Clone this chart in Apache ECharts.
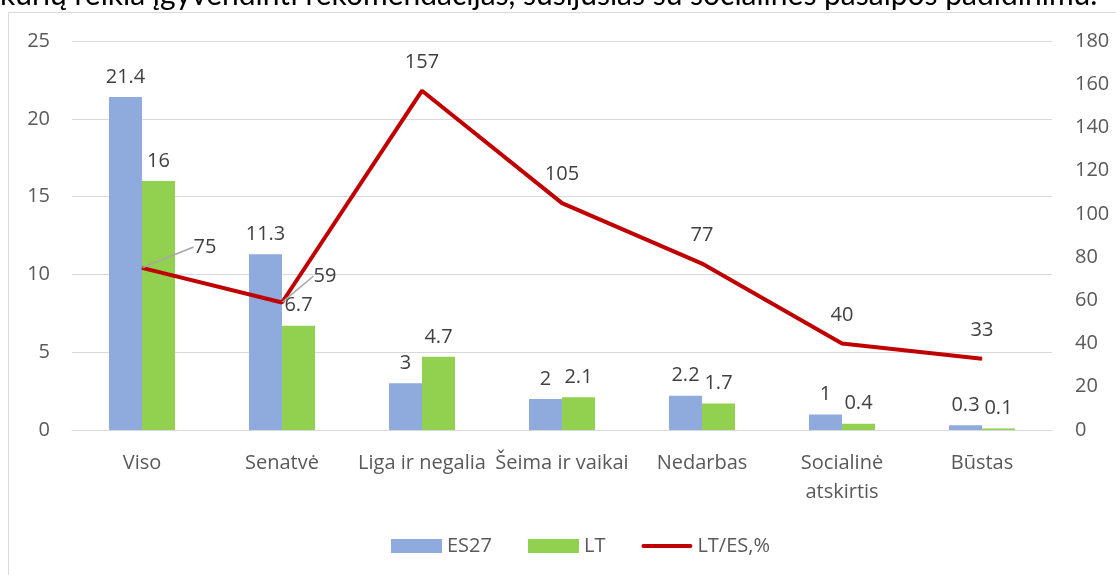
<!DOCTYPE html>
<html>
<head>
<meta charset="utf-8">
<script src="https://cdn.jsdelivr.net/npm/echarts@6/dist/echarts.min.js"></script>
<style>
  html, body { margin: 0; padding: 0; background: #fff; }
  #chart { width: 1116px; height: 575px; }
</style>
</head>
<body>
<div id="chart"></div>
<script>
// Social protection spending categories
const categories = ['Viso', 'Senatvė', 'Liga ir negalia', 'Šeima ir vaikai', 'Nedarbas', 'Socialinė\natskirtis', 'Būstas'];
const es27 = [21.4, 11.3, 3, 2, 2.2, 1, 0.3];
const lt = [16, 6.7, 4.7, 2.1, 1.7, 0.4, 0.1];
const ratio = [75, 59, 157, 105, 77, 40, 33];
const leftTicks = [0, 25, 5];
const rightTicks = [0, 180, 20];
const captionText = 'kurių reikia įgyvendinti rekomendacijas, susijusias su socialinės pašalpos padidinimu.';

const FONT = 'Open Sans';
const FS = 20;
const chart = echarts.init(document.getElementById('chart'), null, { renderer: 'canvas' });

// the first two ratio labels sit to the right with a guide line
const ratioData = ratio.map((v, i) => i < 2
  ? { value: v, labelLine: { show: true } }
  : { value: v });

chart.setOption({
  backgroundColor: '#ffffff',
  textStyle: { fontFamily: FONT },
  animation: false,
  graphic: [
    {
      type: 'text', left: 0, top: -20, silent: true,
      style: { text: captionText, font: '30px Lato', fill: '#000000' }
    },
    {
      type: 'rect', silent: true, z: -1,
      shape: { x: 8.5, y: 12.5, width: 1200, height: 700 },
      style: { fill: null, stroke: '#d9d9d9', lineWidth: 1 }
    }
  ],
  legend: {
    bottom: 14,
    left: 386,
    itemWidth: 51,
    itemHeight: 14,
    itemGap: 36,
    textStyle: { fontSize: FS, color: '#595959', fontFamily: FONT },
    data: [
      { name: 'ES27', icon: 'rect' },
      { name: 'LT', icon: 'rect' },
      { name: 'LT/ES,%', icon: 'path://M2,0 L50,0 A2,2 0 0 1 50,4 L2,4 A2,2 0 0 1 2,0 Z' }
    ]
  },
  grid: { left: 72, right: 64, top: 41, bottom: 145, containLabel: false },
  xAxis: {
    type: 'category',
    data: categories,
    axisLine: { lineStyle: { color: '#d9d9d9', width: 1 } },
    axisTick: { show: false },
    axisLabel: { color: '#595959', fontSize: FS, margin: 19, lineHeight: 29, interval: 0 }
  },
  yAxis: [
    {
      type: 'value', min: leftTicks[0], max: leftTicks[1], interval: leftTicks[2],
      axisLine: { show: false }, axisTick: { show: false },
      splitLine: { lineStyle: { color: '#d9d9d9', width: 1 } },
      axisLabel: { color: '#595959', fontSize: FS, margin: 22 }
    },
    {
      type: 'value', min: rightTicks[0], max: rightTicks[1], interval: rightTicks[2],
      axisLine: { show: false }, axisTick: { show: false },
      splitLine: { show: false },
      axisLabel: { color: '#595959', fontSize: FS, margin: 23 }
    }
  ],
  series: [
    {
      name: 'ES27', type: 'bar', data: es27, barWidth: 33, barGap: '0%',
      itemStyle: { color: '#8faadc' },
      label: { show: true, position: 'top', distance: 10, color: '#404040', fontSize: FS }
    },
    {
      name: 'LT', type: 'bar', data: lt, barWidth: 33, barGap: '0%',
      itemStyle: { color: '#92d050' },
      label: { show: true, position: 'top', distance: 10, color: '#404040', fontSize: FS }
    },
    {
      name: 'LT/ES,%', type: 'line', yAxisIndex: 1, data: ratioData,
      symbol: 'circle', symbolSize: 1, showSymbol: true, z: 5,
      lineStyle: { color: '#c00000', width: 4 },
      itemStyle: { color: '#c00000' },
      label: { show: true, position: 'top', distance: 18, color: '#404040', fontSize: FS },
      labelLine: { show: false, lineStyle: { color: '#a6a6a6', width: 1.5 } },
      labelLayout: function (p) {
        if (p.dataIndex === 0) return { x: p.rect.x + p.rect.width / 2 + 63, y: 247, align: 'center', verticalAlign: 'middle' };
        if (p.dataIndex === 1) return { x: p.rect.x + p.rect.width / 2 + 43, y: 276, align: 'center', verticalAlign: 'middle' };
        return {};
      }
    }
  ]
});
</script>
</body>
</html>
